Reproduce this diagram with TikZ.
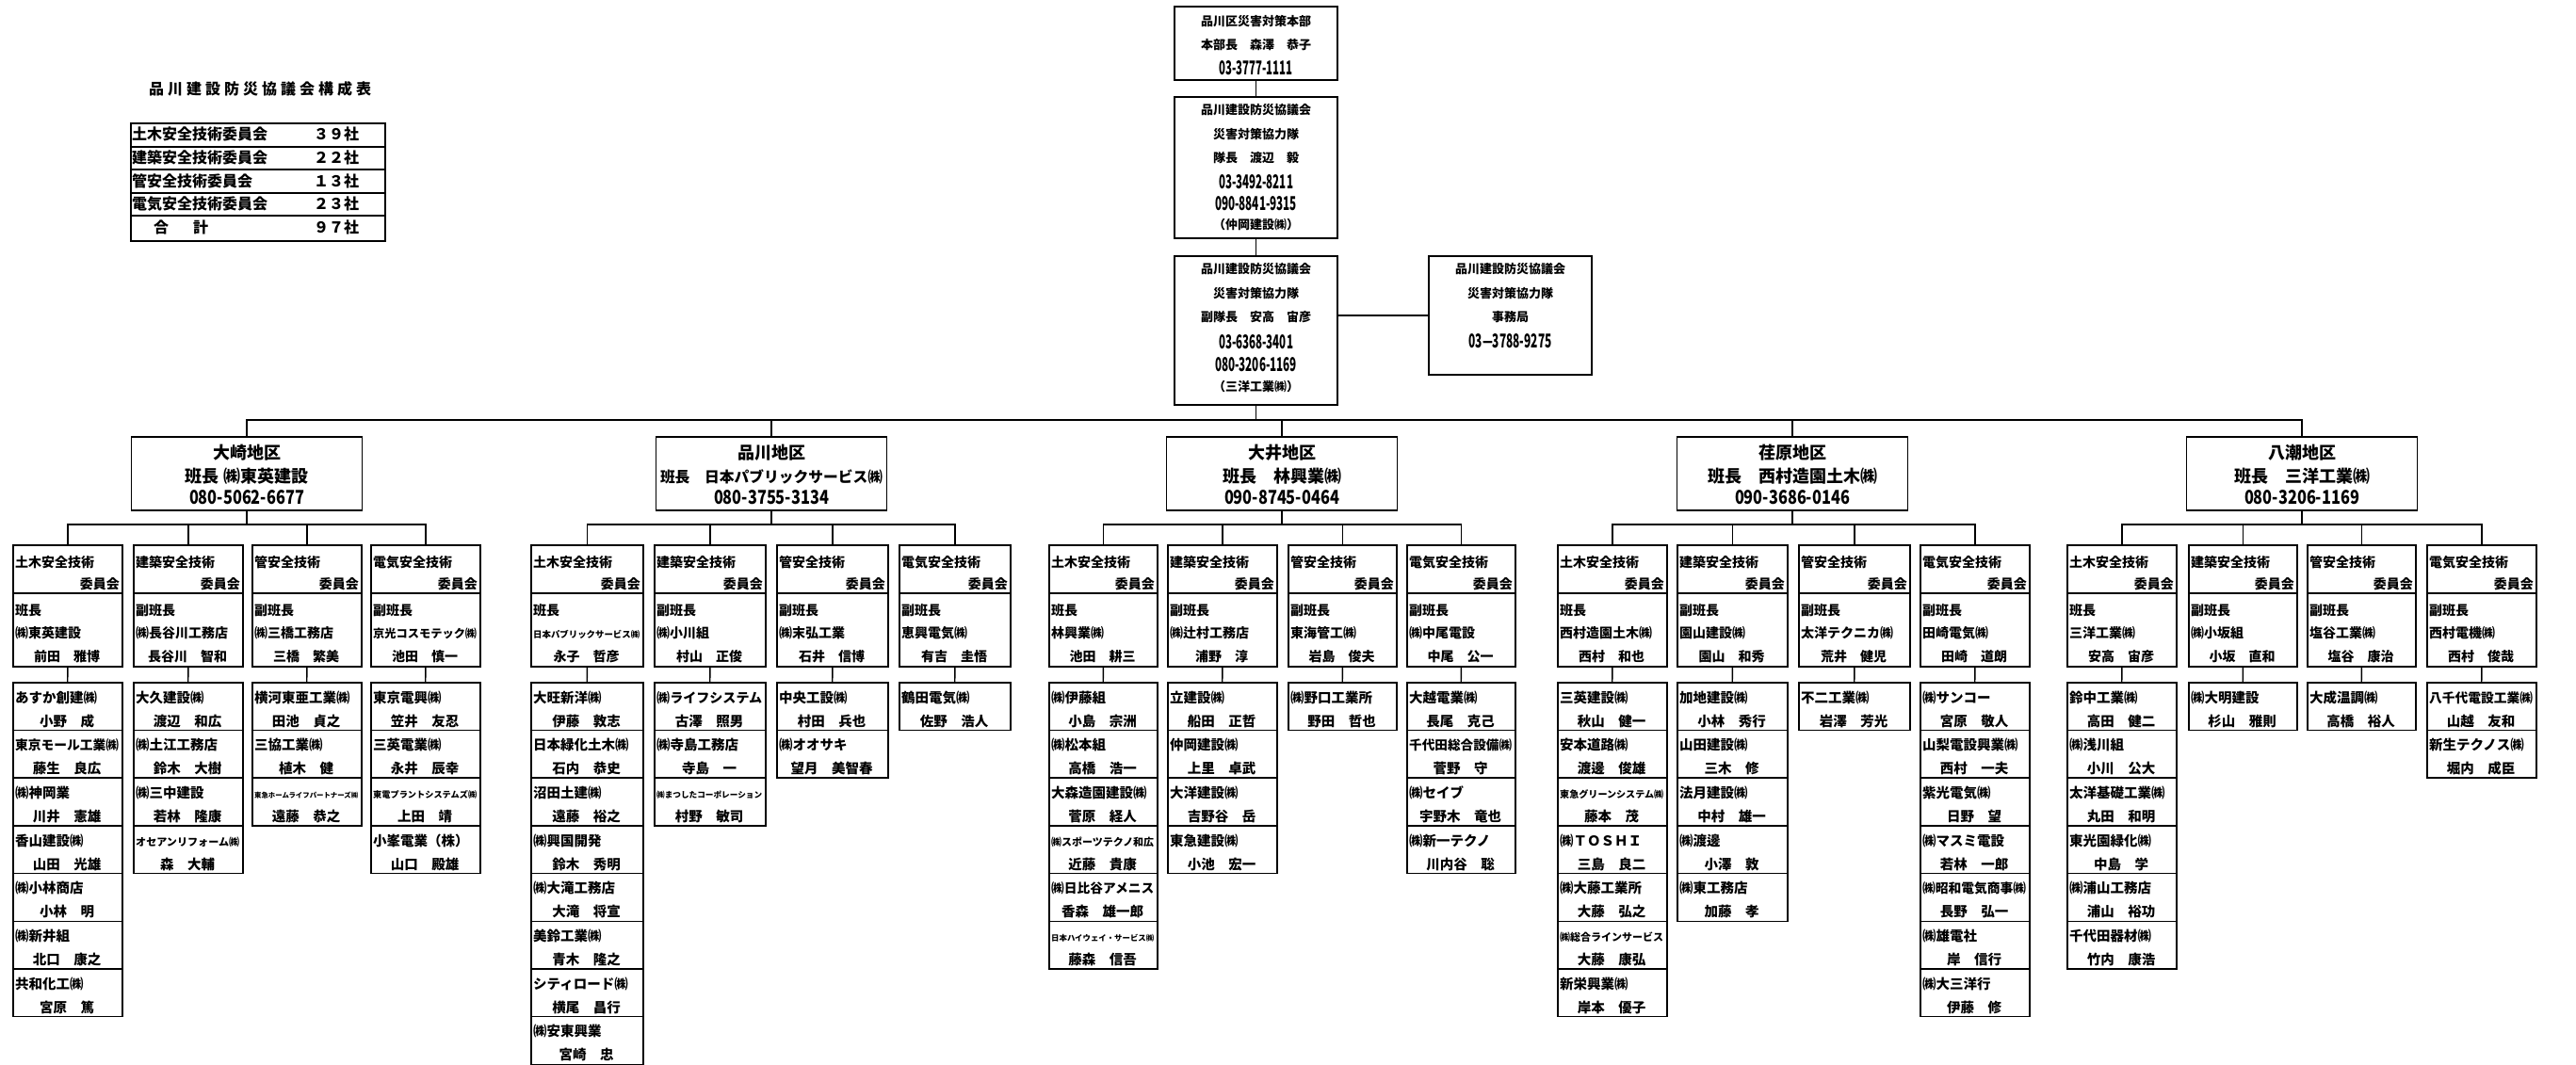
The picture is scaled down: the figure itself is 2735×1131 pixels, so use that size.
\documentclass[tikz,border=0pt]{standalone}
\usepackage{fontspec}
\setmainfont{Noto Sans CJK JP}
\usepackage{graphicx}
\newsavebox\fitbox
\newcommand\fitw[2]{\sbox\fitbox{#2}\ifdim\wd\fitbox>#1\relax\resizebox{#1}{!}{\usebox\fitbox}\else\usebox\fitbox\fi}
\newcommand\tel[3]{\resizebox{#1pt}{#2pt}{\bfseries #3}}
\tikzset{
 box/.style={draw, line width=1.8pt, inner sep=0pt, rectangle},
 mb/.style={draw, line width=1.5pt, inner sep=0pt, rectangle},
 ln/.style={line width=1.4pt},
 t/.style={inner sep=0pt, anchor=base},
 tl/.style={inner sep=0pt, anchor=base west},
 tr/.style={inner sep=0pt, anchor=base east},
 fT/.style={font=\bfseries\fontsize{13}{13}\selectfont},
 fD/.style={font=\bfseries\fontsize{18}{18}\selectfont},
 fC/.style={font=\bfseries\fontsize{14}{14}\selectfont},
 fM/.style={font=\bfseries\fontsize{14.5}{14.5}\selectfont},
 fK/.style={font=\bfseries\fontsize{16}{16}\selectfont},
}
% district box: id, center x, name, leader, phone
\newcommand\district[5]{%
 \node[box, minimum width=245pt, minimum height=78pt] (d#1) at (#2,503) {};
 \node[t,fD] at (#2,487) {#3};
 \node[t,fD] at (#2,512) {\fitw{236pt}{#4}};
 \node[t] at (#2,535.5) {\tel{122}{15}{#5}};
 \coordinate (s#1) at (#2,557);
 \draw[ln] (d#1.south) -- (s#1);
}
% committee box: id, xleft, width, title, role, company, name
\newcommand\cbox[7]{%
 \node[box, anchor=north west, minimum width=#3pt, minimum height=129pt] (c#1) at (#2,578) {};
 \draw[line width=1.5pt] (c#1.north west) ++(0,52) -- ++(#3,0);
 \node[tl,fC] at (#2+3,602) {#4};
 \node[tr,fC] at (#2+#3-2,625) {委員会};
 \node[tl,fC] at (#2+3,653) {#5};
 \pgfmathsetlengthmacro\cw{#3-6}%
 \node[tl,fC] at (#2+3,677) {\fitw{\cw}{#6}};
 \node[t,fC] at (#2+#3/2,702) {#7};
}
% member column: id, xleft, width, list
\newcommand\mcol[4]{%
 \pgfmathsetlengthmacro\mw{#3-6}%
 \foreach \co/\na [count=\i] in {#4} {
  \pgfmathsetmacro\yy{724+(\i-1)*50.7}
  \node[mb, anchor=north west, minimum width=#3pt, minimum height=50.7pt] (m#1-\i) at (#2,\yy) {};
  \node[tl,fM] at (#2+3,\yy+22) {\fitw{\mw}{\co}};
  \node[t,fM] at (#2+#3/2,\yy+47) {\na};
 }
 \draw[ln] (c#1.south) -- (m#1-1.north);
}
% four committee connectors from sub-bus
\newcommand\subbus[1]{%
 \draw[ln] (c#11.north) |- (s#1) -| (c#14.north);
 \draw[ln] (c#12.north) -- (c#12.north |- s#1);
 \draw[ln] (c#13.north) -- (c#13.north |- s#1);
}
\begin{document}
\begin{tikzpicture}[x=1pt,y=-1pt]
\fill[white] (0,0) rectangle (2735,1131);
\useasboundingbox (0,0) rectangle (2735,1131);

% ---- composition table ----
\node[tl,fK] (ttl) at (158,101) {\addfontfeature{LetterSpace=25}品川建設防災協議会構成表};
\node[box, anchor=north west, minimum width=270pt, minimum height=125pt] (tab) at (138,130) {};
\foreach \yy in {156,180,205,229} \draw[line width=1.5pt] (138,\yy) -- (408,\yy);
\node[tl,fK] at (140,149) {土木安全技術委員会};
\node[tl,fK] at (333,149) {３９社};
\node[tl,fK] at (140,174) {建築安全技術委員会};
\node[tl,fK] at (333,174) {２２社};
\node[tl,fK] at (140,198.5) {管安全技術委員会};
\node[tl,fK] at (333,198.5) {１３社};
\node[tl,fK] at (140,223) {電気安全技術委員会};
\node[tl,fK] at (333,223) {２３社};
\node[tl,fK] at (163,248) {合\hspace{26pt}計};
\node[tl,fK] at (333,248) {９７社};

% ---- top chain ----
\node[box, minimum width=173pt, minimum height=78pt] (hq1) at (1333.5,46) {};
\node[t,fT] at (1333.5,28) {品川区災害対策本部};
\node[t,fT] at (1333.5,53) {本部長　森澤　恭子};
\node[t] at (1333.5,79.5) {\tel{78}{15}{03-3777-1111}};

\node[box, minimum width=173pt, minimum height=150pt] (hq2) at (1333.5,178) {};
\node[t,fT] at (1333.5,122) {品川建設防災協議会};
\node[t,fT] at (1333.5,148) {災害対策協力隊};
\node[t,fT] at (1333.5,173) {隊長　渡辺　毅};
\node[t] at (1333.5,200.5) {\tel{79}{15}{03-3492-8211}};
\node[t] at (1333.5,223.5) {\tel{87}{15}{090-8841-9315}};
\node[t,fT] at (1333.5,244) {（仲岡建設㈱）};

\node[box, minimum width=173pt, minimum height=158pt] (hq3) at (1333.5,351) {};
\node[t,fT] at (1333.5,291) {品川建設防災協議会};
\node[t,fT] at (1333.5,317) {災害対策協力隊};
\node[t,fT] at (1333.5,342) {副隊長　安高　宙彦};
\node[t] at (1333.5,370.5) {\tel{79}{15}{03-6368-3401}};
\node[t] at (1333.5,394.5) {\tel{87}{15}{080-3206-1169}};
\node[t,fT] at (1333.5,415) {（三洋工業㈱）};

\node[box, minimum width=173pt, minimum height=126pt] (sec) at (1603.5,335) {};
\node[t,fT] at (1603.5,291) {品川建設防災協議会};
\node[t,fT] at (1603.5,317) {災害対策協力隊};
\node[t,fT] at (1603.5,342) {事務局};
\node[t] at (1603.5,369.5) {\tel{88}{15}{03—3788-9275}};

\draw[ln] (hq1.south) -- (hq2.north);
\draw[ln] (hq2.south) -- (hq3.north);
\draw[ln] (hq3.east |- sec.west) -- (sec.west);

% ---- districts ----
\district{1}{262}{大崎地区}{班長 ㈱東英建設}{080-5062-6677}
\district{2}{819}{品川地区}{班長　日本パブリックサービス㈱}{080-3755-3134}
\district{3}{1361}{大井地区}{班長　林興業㈱}{090-8745-0464}
\district{4}{1903}{荏原地区}{班長　西村造園土木㈱}{090-3686-0146}
\district{5}{2444}{八潮地区}{班長　三洋工業㈱}{080-3206-1169}

\coordinate (bus) at (1333.5,446);
\draw[ln] (hq3.south) -- (bus);
\draw[ln] (d1.north) |- (bus) -| (d5.north);
\foreach \k in {2,3,4} \draw[ln] (d\k.north) -- (d\k.north |- bus);

% ---- 大崎 ----
\cbox{11}{13}{116}{土木安全技術}{班長}{㈱東英建設}{前田　雅博}
\cbox{12}{141}{116}{建築安全技術}{副班長}{㈱長谷川工務店}{長谷川　智和}
\cbox{13}{267}{116}{管安全技術}{副班長}{㈱三橋工務店}{三橋　繁美}
\cbox{14}{393}{116}{電気安全技術}{副班長}{京光コスモテック㈱}{池田　慎一}
\subbus{1}
\mcol{11}{13}{116}{あすか創建㈱/小野　成, 東京モール工業㈱/藤生　良広, ㈱神岡業/川井　憲雄, 香山建設㈱/山田　光雄, ㈱小林商店/小林　明, ㈱新井組/北口　康之, 共和化工㈱/宮原　篤}
\mcol{12}{141}{116}{大久建設㈱/渡辺　和広, ㈱土江工務店/鈴木　大樹, ㈱三中建設/若林　隆康, オセアンリフォーム㈱/森　大輔}
\mcol{13}{267}{116}{横河東亜工業㈱/田池　貞之, 三協工業㈱/植木　健, 東急ホームライフパートナーズ㈱/遠藤　恭之}
\mcol{14}{393}{116}{東京電興㈱/笠井　友忍, 三英電業㈱/永井　辰幸, 東電プラントシステムズ㈱/上田　靖, 小峯電業（株）/山口　殿雄}

% ---- 品川 ----
\cbox{21}{563}{119}{土木安全技術}{班長}{日本パブリックサービス㈱}{永子　哲彦}
\cbox{22}{694}{118}{建築安全技術}{副班長}{㈱小川組}{村山　正俊}
\cbox{23}{824}{118}{管安全技術}{副班長}{㈱末弘工業}{石井　信博}
\cbox{24}{954}{118}{電気安全技術}{副班長}{恵興電気㈱}{有吉　圭悟}
\subbus{2}
\mcol{21}{563}{119}{大旺新洋㈱/伊藤　敦志, 日本緑化土木㈱/石内　恭史, 沼田土建㈱/遠藤　裕之, ㈱興国開発/鈴木　秀明, ㈱大滝工務店/大滝　将宣, 美鈴工業㈱/青木　隆之, シティロード㈱/横尾　昌行, ㈱安東興業/宮崎　忠}
\mcol{22}{694}{118}{㈱ライフシステム/古澤　照男, ㈱寺島工務店/寺島　一, ㈱まつしたコーポレーション/村野　敏司}
\mcol{23}{824}{118}{中央工設㈱/村田　兵也, ㈱オオサキ/望月　美智春}
\mcol{24}{954}{118}{鶴田電気㈱/佐野　浩人}

% ---- 大井 ----
\cbox{31}{1113}{115}{土木安全技術}{班長}{林興業㈱}{池田　耕三}
\cbox{32}{1239}{116}{建築安全技術}{副班長}{㈱辻村工務店}{浦野　淳}
\cbox{33}{1367}{115}{管安全技術}{副班長}{東海管工㈱}{岩島　俊夫}
\cbox{34}{1493}{115}{電気安全技術}{副班長}{㈱中尾電設}{中尾　公一}
\subbus{3}
\mcol{31}{1113}{115}{㈱伊藤組/小島　宗洲, ㈱松本組/高橋　浩一, 大森造園建設㈱/菅原　経人, ㈱スポーツテクノ和広/近藤　貴康, ㈱日比谷アメニス/香森　雄一郎, 日本ハイウェイ・サービス㈱/藤森　信吾}
\mcol{32}{1239}{116}{立建設㈱/船田　正哲, 仲岡建設㈱/上里　卓武, 大洋建設㈱/吉野谷　岳, 東急建設㈱/小池　宏一}
\mcol{33}{1367}{115}{㈱野口工業所/野田　哲也}
\mcol{34}{1493}{115}{大越電業㈱/長尾　克己, 千代田総合設備㈱/菅野　守, ㈱セイブ/宇野木　竜也, ㈱新一テクノ/川内谷　聡}

% ---- 荏原 ----
\cbox{41}{1653}{116}{土木安全技術}{班長}{西村造園土木㈱}{西村　和也}
\cbox{42}{1780}{117}{建築安全技術}{副班長}{園山建設㈱}{園山　和秀}
\cbox{43}{1909}{118}{管安全技術}{副班長}{太洋テクニカ㈱}{荒井　健児}
\cbox{44}{2038}{116}{電気安全技術}{副班長}{田崎電気㈱}{田崎　道朗}
\subbus{4}
\mcol{41}{1653}{116}{三英建設㈱/秋山　健一, 安本道路㈱/渡邊　俊雄, 東急グリーンシステム㈱/藤本　茂, ㈱ＴＯＳＨＩ/三島　良二, ㈱大藤工業所/大藤　弘之, ㈱総合ラインサービス/大藤　康弘, 新栄興業㈱/岸本　優子}
\mcol{42}{1780}{117}{加地建設㈱/小林　秀行, 山田建設㈱/三木　修, 法月建設㈱/中村　雄一, ㈱渡邊/小澤　敦, ㈱東工務店/加藤　孝}
\mcol{43}{1909}{118}{不二工業㈱/岩澤　芳光}
\mcol{44}{2038}{116}{㈱サンコー/宮原　敬人, 山梨電設興業㈱/西村　一夫, 紫光電気㈱/日野　望, ㈱マスミ電設/若林　一郎, ㈱昭和電気商事㈱/長野　弘一, ㈱雄電社/岸　信行, ㈱大三洋行/伊藤　修}

% ---- 八潮 ----
\cbox{51}{2194}{116}{土木安全技術}{班長}{三洋工業㈱}{安高　宙彦}
\cbox{52}{2323}{115}{建築安全技術}{副班長}{㈱小坂組}{小坂　直和}
\cbox{53}{2449}{115}{管安全技術}{副班長}{塩谷工業㈱}{塩谷　康治}
\cbox{54}{2576}{116}{電気安全技術}{副班長}{西村電機㈱}{西村　俊哉}
\subbus{5}
\mcol{51}{2194}{116}{鈴中工業㈱/高田　健二, ㈱浅川組/小川　公大, 太洋基礎工業㈱/丸田　和明, 東光園緑化㈱/中島　学, ㈱浦山工務店/浦山　裕功, 千代田器材㈱/竹内　康浩}
\mcol{52}{2323}{115}{㈱大明建設/杉山　雅則}
\mcol{53}{2449}{115}{大成温調㈱/高橋　裕人}
\mcol{54}{2576}{116}{八千代電設工業㈱/山越　友和, 新生テクノス㈱/堀内　成臣}
\end{tikzpicture}
\end{document}
